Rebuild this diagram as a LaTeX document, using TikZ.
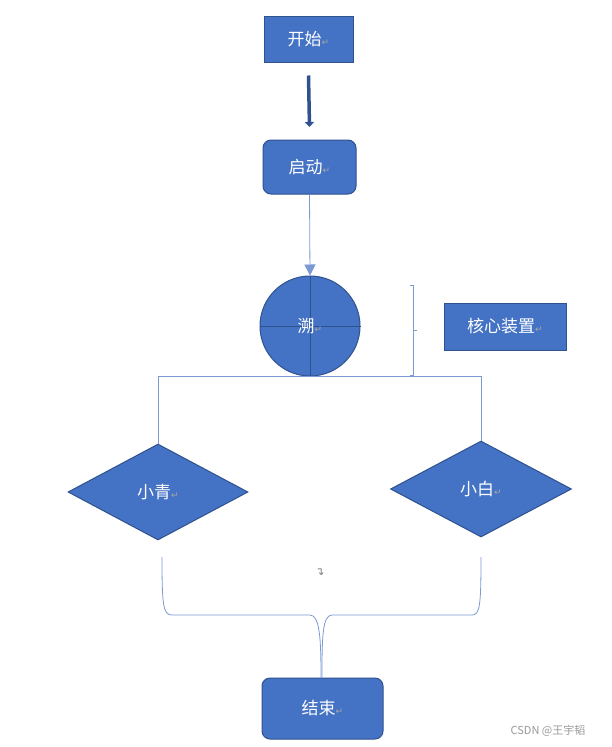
\documentclass[tikz,border=0pt]{standalone}
\usepackage{fontspec}
\setmainfont{Noto Sans CJK SC}
\newfontfamily\symfont{DejaVu Sans}
\usetikzlibrary{shapes.geometric, arrows.meta, positioning}
\definecolor{boxFill}{HTML}{4472C4}
\definecolor{boxEdge}{HTML}{2F528F}
\definecolor{lineBlue}{HTML}{7A9AD6}
\newcommand{\paraMark}{{\symfont\color{gray!70}\fontsize{9}{9}\selectfont ↵}}
\tikzset{
  blockBox/.style={draw=boxEdge, fill=boxFill, line width=1pt, text=white, font=\fontsize{17}{17}\selectfont, inner sep=0pt},
  roundBox/.style={blockBox, rounded corners=8pt},
  linkLine/.style={draw=lineBlue, line width=0.8pt}
}
\begin{document}
\begin{tikzpicture}[x=1pt, y=-1pt]
  \fill[white] (0,0) rectangle (612,747);

  % boxes
  \node[blockBox, minimum width=89pt, minimum height=46pt] (start) at (308.5,39) {开始\paraMark};
  \node[roundBox, minimum width=93pt, minimum height=54pt] (boot) at (309.5,167) {启动\paraMark};
  \node[blockBox, circle, minimum size=100pt] (core) at (310,326) {};
  \draw[boxEdge, line width=1pt] (core.north) -- (core.south) (core.west) -- (core.east);
  \node[text=white, font=\fontsize{17}{17}\selectfont] (coreText) at (core.center) {溯\paraMark};
  \node[blockBox, minimum width=122pt, minimum height=47pt] (coreNote) at (505,326.5) {核心装置\paraMark};
  \node[blockBox, diamond, aspect=1.9, minimum width=180pt, minimum height=96pt] (qing) at (158,492) {小青\paraMark};
  \node[blockBox, diamond, aspect=1.9, minimum width=181pt, minimum height=96pt] (bai) at (481,489) {小白\paraMark};
  \node[roundBox, minimum width=121pt, minimum height=61pt] (finish) at (322.5,708.5) {结束\paraMark};

  % connectors
  \draw[boxEdge, line width=3.5pt, -{Triangle[length=5pt, width=9pt]}] (start.south) ++(0,13) coordinate (arrowTop) -- (boot.north |- 0,127);
  \draw[linkLine, -{Triangle[length=11pt, width=11pt]}] (boot.south) -- (core.north);
  \draw[linkLine] (qing.north) |- (core.south) -| (bai.north);

  % brace beside the core
  \draw[linkLine, line width=0.6pt] (410,285) -- (413,285) -- (413,375) -- (410,375) (413,330) -- (417,330);

  % joining brace
  \coordinate (joinL) at (162,557);
  \coordinate (joinR) at (481,557);
  \draw[linkLine] (joinL) .. controls (162,605) and (163,615) .. (172,615) -- (310,615)
    .. controls (320,615) and (321,640) .. (321,678);
  \draw[linkLine] (joinR) .. controls (481,605) and (480,615) .. (472,615) -- (332,615)
    .. controls (322,615) and (322,640) .. (322,678);
  \node[font=\symfont\fontsize{11}{11}\selectfont, text=gray] (joinMark) at (320,572) {↴};

  \node[font=\fontsize{11}{11}\selectfont, text=gray!80] (mark) at (548,731) {CSDN @王宇韬};
\end{tikzpicture}
\end{document}
